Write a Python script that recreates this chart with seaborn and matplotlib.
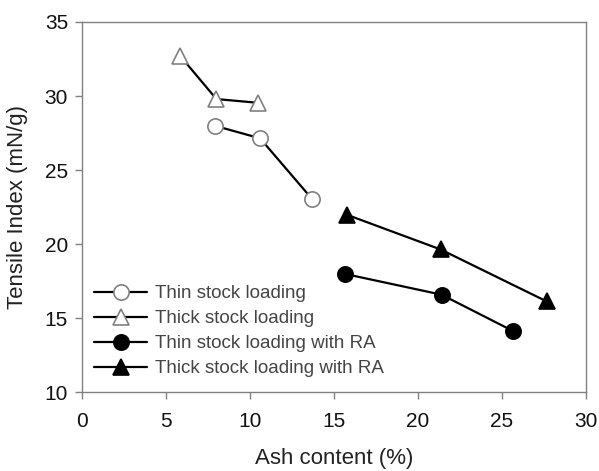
import matplotlib
matplotlib.use("Agg")
import matplotlib.pyplot as plt
import seaborn as sns
import pandas as pd

sns.set_theme(style="white")
plt.rcParams['font.family'] = ['Liberation Sans', 'DejaVu Sans']

series_names = ["Thin stock loading", "Thick stock loading",
                "Thin stock loading with RA", "Thick stock loading with RA"]
thin_x = [7.9, 10.6, 13.7]
thin_y = [28.0, 27.15, 23.05]
thick_x = [5.85, 8.0, 10.45]
thick_y = [32.7, 29.8, 29.55]
thin_ra_x = [15.65, 21.4, 25.65]
thin_ra_y = [18.0, 16.6, 14.15]
thick_ra_x = [15.75, 21.35, 27.65]
thick_ra_y = [22.0, 19.65, 16.15]

xs = [thin_x, thick_x, thin_ra_x, thick_ra_x]
ys = [thin_y, thick_y, thin_ra_y, thick_ra_y]
markers = ["o", "^", "o", "^"]
faces = ["white", "white", "black", "black"]
edges = ["#808080", "#808080", "black", "black"]

fig = plt.figure(figsize=(5.99, 4.71), dpi=100)
ax = fig.add_axes([0.1369, 0.1667, 0.8414, 0.7866])

for name, x, y, m, fc, ec in zip(series_names, xs, ys, markers, faces, edges):
    df = pd.DataFrame({"x": x, "y": y})
    sns.lineplot(data=df, x="x", y="y", ax=ax, color="black", linewidth=1.6,
                 marker=m, markersize=11, markerfacecolor=fc,
                 markeredgecolor=ec, markeredgewidth=1.2, label=name,
                 sort=False)

ax.set_xlim(0, 30)
ax.set_ylim(10, 35)
ax.set_xticks(range(0, 31, 5))
ax.set_yticks(range(10, 36, 5))
for s in ax.spines.values():
    s.set_color("#808080")
    s.set_linewidth(1.0)
ax.tick_params(axis="both", which="both", direction="out", length=5,
               width=1.0, color="#808080", labelsize=15, labelcolor="#111111",
               bottom=True, left=True, top=False, right=False)
ax.tick_params(axis="x", pad=9)
ax.tick_params(axis="y", pad=5)
ax.set_xlabel("Ash content (%)", fontsize=16, color="#222222", labelpad=12)
ax.set_ylabel("Tensile Index (mN/g)", fontsize=16, color="#222222", labelpad=12)

leg = ax.legend(loc="lower left", bbox_to_anchor=(-0.005, 0.0), frameon=False,
                fontsize=13.5, handlelength=2.8, handletextpad=0.45,
                labelspacing=0.42, borderaxespad=0.4, numpoints=1)
for t in leg.get_texts():
    t.set_color("#444444")

fig.savefig("out.png", dpi=100)
